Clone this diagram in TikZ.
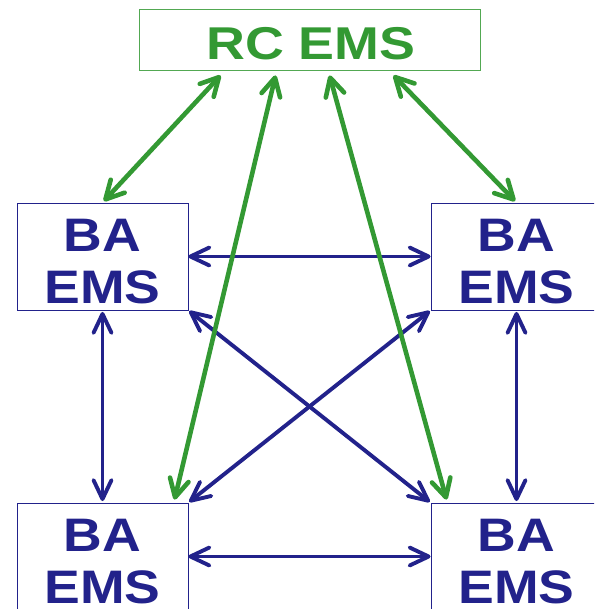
\documentclass[tikz,border=0pt]{standalone}
\usepackage{fontspec}
\usetikzlibrary{arrows.meta,calc}
\newfontfamily\boxfont{Liberation Sans}[FakeStretch=1.14]
\newfontfamily\headfont{Liberation Sans}[FakeStretch=1.17]
\definecolor{emsgreen}{HTML}{339933}
\definecolor{emsblue}{HTML}{22228B}
\tikzset{
  babox/.style={draw=emsblue, line width=0.9pt, minimum width=171pt, minimum height=107pt, inner sep=0pt},
  rcbox/.style={draw=emsgreen!85, line width=0.9pt, minimum width=341pt, minimum height=61pt, inner sep=0pt},
  batext/.style={text=emsblue, font=\boxfont\bfseries\fontsize{47}{52}\selectfont, align=center, inner sep=0pt},
  rctext/.style={text=emsgreen, font=\headfont\bfseries\fontsize{46}{52}\selectfont, inner sep=0pt},
  balink/.style={draw=emsblue, line width=3.9pt, {Straight Barb[length=19pt, width=18pt, round]}-{Straight Barb[length=19pt, width=18pt, round]}},
  rclink/.style={draw=emsgreen, line width=4.6pt, {Straight Barb[length=18pt, width=19pt, round]}-{Straight Barb[length=18pt, width=19pt, round]}}
}
\begin{document}
\begin{tikzpicture}[x=1pt, y=-1pt]
  \useasboundingbox (0,0) rectangle (594,609);
  \clip (0,0) rectangle (594,609);

  % boxes
  \node[rcbox] (rc) at (309.5,39.5) {};
  \node[babox] (tl) at (102.5,256.5) {};
  \node[babox] (tr) at (516.5,256.5) {};
  \node[babox] (bl) at (102.5,556.5) {};
  \node[babox] (br) at (516.5,556.5) {};

  % labels
  \node[rctext] (rclabel) at (311,43.5) {RC EMS};
  \node[batext] (tllabel) at ($(tl.center)+(0,5)$) {BA\\EMS};
  \node[batext] (trlabel) at ($(tr.center)+(0,5)$) {BA\\EMS};
  \node[batext] (bllabel) at ($(bl.center)+(0,5)$) {BA\\EMS};
  \node[batext] (brlabel) at ($(br.center)+(0,5)$) {BA\\EMS};

  % attachment points under the RC box
  \coordinate (g1) at ($(rc.south west)+(82,5)$);
  \coordinate (g2) at ($(rc.south west)+(137,5)$);
  \coordinate (g3) at ($(rc.south west)+(191,5)$);
  \coordinate (g4) at ($(rc.south west)+(255,5)$);
  \coordinate (blg) at ($(bl.north west)+(158,-3)$);
  \coordinate (brg) at ($(br.north west)+(16,-3)$);

  % links between BA boxes
  \draw[balink] (tl.east) -- (tr.west);
  \draw[balink] (bl.east) -- (br.west);
  \draw[balink, shorten <=1.5pt, shorten >=1.5pt] (tl.south) -- (bl.north);
  \draw[balink, shorten <=1.5pt, shorten >=1.5pt] (tr.south) -- (br.north);
  \draw[balink, shorten <=1pt, shorten >=1pt] (tl.south east) -- (br.north west);
  \draw[balink, shorten <=1pt, shorten >=1pt] (tr.south west) -- (bl.north east);

  % links to the RC box
  \draw[rclink, shorten >=2pt] (g1) -- (tl.north);
  \draw[rclink] (g2) -- (blg);
  \draw[rclink] (g3) -- (brg);
  \draw[rclink, shorten >=2pt] (g4) -- (tr.north);
\end{tikzpicture}
\end{document}
